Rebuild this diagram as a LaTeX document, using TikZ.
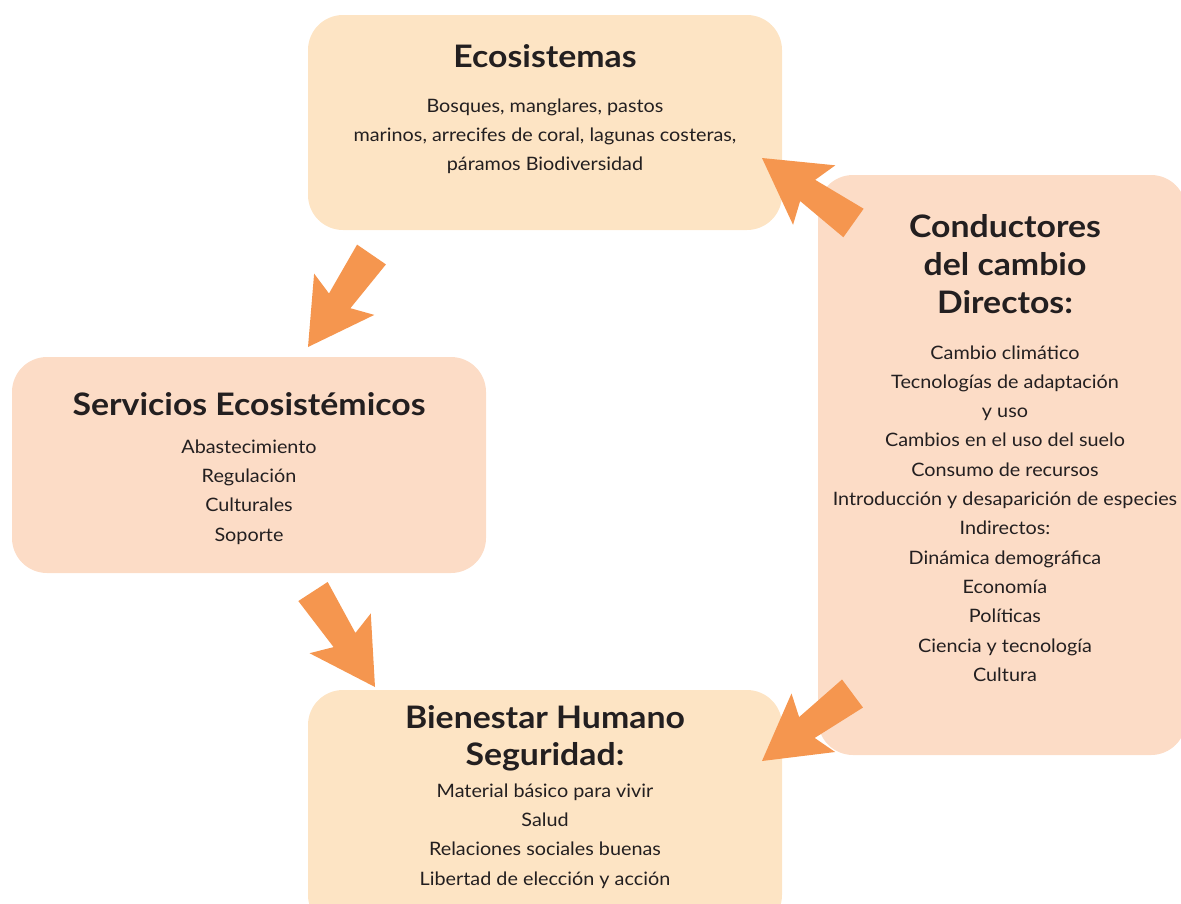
\documentclass[tikz,border=0pt]{standalone}
\usepackage{fontspec}
\setmainfont{Lato}[FakeStretch=1.07]
\newfontfamily\titlefont{Lato}[FakeStretch=1.09]
\usetikzlibrary{calc}
\definecolor{boxA}{HTML}{FDE4C4}
\definecolor{boxB}{HTML}{FCDCC6}
\definecolor{arrowc}{HTML}{F5964F}
\definecolor{txt}{HTML}{231F20}
\newcommand\fatarrow[2]{%
  \fill[arrowc]
    ($(#1)!17.5pt!-90:(#2)$) --
    ($(#2)!56pt!(#1)!13pt!90:(#1)$) --
    ($(#2)!64pt!(#1)!36.5pt!90:(#1)$) --
    (#2) --
    ($(#2)!64pt!(#1)!36.5pt!-90:(#1)$) --
    ($(#2)!56pt!(#1)!13pt!-90:(#1)$) --
    ($(#1)!17.5pt!90:(#2)$) -- cycle;}
\begin{document}
\begin{tikzpicture}[x=1pt,y=-1pt,
  panel/.style={rounded corners=35pt, inner sep=0pt, draw=none},
  ttl/.style={inner sep=0pt, anchor=base, text=txt, font=\titlefont\fontsize{31}{37}\selectfont\bfseries, align=center},
  body/.style={inner sep=0pt, anchor=base, text=txt, font=\fontsize{18.5}{29.3}\selectfont, align=center}]
\useasboundingbox (0,0) rectangle (1181,903);
\begin{scope}
\clip (0,0) rectangle (1181,903);
\node[panel, fill=boxA, minimum width=474pt, minimum height=215pt] (eco) at (545,122.5) {};
\node[panel, fill=boxB, minimum width=474pt, minimum height=216pt] (serv) at (249,465) {};
\node[panel, fill=boxA, minimum width=474pt, minimum height=240pt] (bien) at (545,810) {};
\node[panel, fill=boxB, minimum width=368pt, minimum height=580pt] (cond) at (1002,465) {};
\end{scope}

% anchor=base of a multi-line node = baseline of its last line
\node[ttl] (ecoT) at (545,67) {Ecosistemas};
\node[body] (ecoB) at (545,170.6) {Bosques, manglares, pastos\\marinos, arrecifes de coral, lagunas costeras,\\páramos Biodiversidad};

\node[ttl] (servT) at (249,415) {Servicios Ecosistémicos};
\node[body] (servB) at (249,541) {Abastecimiento\\Regulación\\Culturales\\Soporte};

\node[ttl] (bienT) at (545,765) {Bienestar Humano\\Seguridad:};
\node[body] (bienB) at (545,885) {Material básico para vivir\\Salud\\Relaciones sociales buenas\\Libertad de elección y acción};

\node[ttl, font=\titlefont\fontsize{31}{38.3}\selectfont\bfseries] (condT) at (1005,313.6) {Conductores\\del cambio\\Directos:};
\node[body] (condB) at (1005,681.3) {Cambio climático\\Tecnologías de adaptación\\y uso\\Cambios en el uso del suelo\\Consumo de recursos\\Introducción y desaparición de especies\\Indirectos:\\Dinámica demográfica\\Economía\\Políticas\\Ciencia y tecnología\\Cultura};

\coordinate (a1s) at (371.5,254.5);
\coordinate (a1e) at (308,347);
\coordinate (a2s) at (313,591.5);
\coordinate (a2e) at (375,687);
\coordinate (a3s) at (853.5,223);
\coordinate (a3e) at (762,158);
\coordinate (a4s) at (852.5,693.5);
\coordinate (a4e) at (762,761);
\fatarrow{a1s}{a1e}
\fatarrow{a2s}{a2e}
\fatarrow{a3s}{a3e}
\fatarrow{a4s}{a4e}
\end{tikzpicture}
\end{document}
